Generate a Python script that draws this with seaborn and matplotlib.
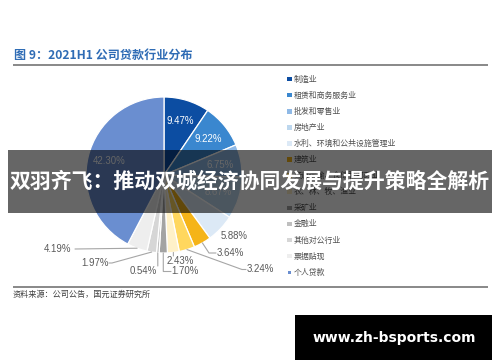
import matplotlib
matplotlib.use("Agg")
import matplotlib.pyplot as plt
from matplotlib.patches import Rectangle
import numpy as np
import seaborn as sns

# ---------------- data ----------------
categories = ["制造业", "租赁和商务服务业", "批发和零售业", "房地产业",
              "水利、环境和公共设施管理业", "建筑业", "交通运输、仓储和邮政业",
              "农、林、牧、渔业", "采矿业", "金融业", "其他对公行业", "票据贴现", "个人贷款"]
values = [9.47, 9.22, 6.75, 8.67, 5.88, 3.64, 3.24, 2.43, 1.70, 0.54, 1.97, 4.19, 42.30]
value_labels = ["9.47%", "9.22%", "6.75%", "8.67%", "5.88%", "3.64%", "3.24%",
                "2.43%", "1.70%", "0.54%", "1.97%", "4.19%", "42.30%"]
slice_colors = ["#0C4DA2", "#3A87CF", "#8FB9E6", "#BDD7EE", "#DCE9F6",
                "#F5B418", "#FFD75E", "#FFF1C8", "#A3A3A3", "#BFBFBF",
                "#D6D6D6", "#EEEEEE", "#6A8ED0"]
title_text = "图 9：2021H1 公司贷款行业分布"
source_text = "资料来源：公司公告，国元证券研究所"
banner_text = "双羽齐飞：推动双城经济协同发展与提升策略全解析"
watermark_text = "www.zh-bsports.com"

# ---------------- style ----------------
sns.set_theme(style="white")
plt.rcParams["font.family"] = ["Liberation Sans", "Noto Sans CJK SC", "DejaVu Sans"]
CJK = ["Noto Sans CJK SC", "DejaVu Sans"]
palette = sns.color_palette(slice_colors)

W, H = 500, 362
fig = plt.figure(figsize=(W / 100, H / 100), dpi=100)
fig.patch.set_facecolor("white")

# background axes in pixel coordinates
bg = fig.add_axes([0, 0, 1, 1], zorder=0)
bg.set_xlim(0, W)
bg.set_ylim(H, 0)
bg.axis("off")

bg.text(14, 55, title_text, family=CJK, fontsize=8.7, fontweight="bold",
        color="#2F6CB5", va="center", ha="left")
bg.plot([13, 488], [65, 65], color="#7F7F7F", lw=1.3, solid_capstyle="butt")
bg.plot([13, 488], [287, 287], color="#7F7F7F", lw=1.3, solid_capstyle="butt")
bg.text(13, 294.5, source_text, family=CJK, fontsize=5.9, color="#404040",
        va="center", ha="left")

# legend
for i, (cat, col) in enumerate(zip(categories, palette)):
    y = 79 + 16.1 * i
    s = 4.6 if i < len(categories) - 1 else 3.0
    bg.add_patch(Rectangle((289.5 - s / 2, y - s / 2), s, s, color=col, lw=0))
    bg.text(294, y, cat, family=CJK, fontsize=5.7, color="#505050",
            va="center", ha="left")

# ---------------- pie ----------------
cx, cy, r = 164, 175, 78
ax = fig.add_axes([(cx - r) / W, (H - cy - r) / H, 2 * r / W, 2 * r / H], zorder=1)
wedges, _ = ax.pie(values, colors=palette, startangle=90, counterclock=False,
                   radius=1, wedgeprops=dict(edgecolor="white", linewidth=0.9))
ax.set_xlim(-1, 1)
ax.set_ylim(-1, 1)
ax.axis("off")

def to_data(px, py):
    return (px - cx) / r, (cy - py) / r

# inside labels (on wedge mid-angle)
inside = [0, 1, 2, 3, 12]
for i in inside:
    w = wedges[i]
    ang = np.deg2rad((w.theta1 + w.theta2) / 2)
    rr = 0.73
    ax.text(rr * np.cos(ang), rr * np.sin(ang), value_labels[i], color="white",
            fontsize=6.9, ha="center", va="center", clip_on=False)

# outside labels: (text center px, elbow px or None, text anchor)
outside = {
    4: ((234, 236), None),
    5: ((230, 252.5), [(209, 253), (216, 253)]),
    6: ((260, 269), [(242, 269.5), (246, 269.5)]),
    7: ((180, 260.5), [(173.4, 256)]),
    8: ((185, 271.5), [(163.3, 271.5), (171, 271.5)]),
    9: ((143.5, 271.5), [(157.8, 266)]),
    10: ((95, 263), [(112, 263), (109, 263)]),
    11: ((58, 249), [(75, 249)]),
}
for i, (tpos, path) in outside.items():
    tx, ty = to_data(*tpos)
    ax.text(tx, ty, value_labels[i], color="#595959", fontsize=6.9,
            ha="center", va="center", clip_on=False)
    if path:
        w = wedges[i]
        ang = np.deg2rad((w.theta1 + w.theta2) / 2)
        xs = [np.cos(ang)]
        ys = [np.sin(ang)]
        for p in path:
            dx, dy = to_data(*p)
            xs.append(dx)
            ys.append(dy)
        ax.plot(xs, ys, color="#A6A6A6", lw=0.8, clip_on=False)

# ---------------- overlays ----------------
ov = fig.add_axes([0, 0, 1, 1], zorder=5)
ov.set_xlim(0, W)
ov.set_ylim(H, 0)
ov.axis("off")
ov.add_patch(Rectangle((8, 150), 484, 63, color="black", alpha=0.6, lw=0))
ov.text(250, 181, banner_text, family=CJK, fontsize=15, fontweight="bold",
        color="white", ha="center", va="center")
ov.add_patch(Rectangle((295, 315), 197, 45, color="black", lw=0))
ov.text(394, 338, watermark_text, family=["DejaVu Sans"], fontsize=10,
        fontweight="bold", color="white", ha="center", va="center")

fig.savefig("out.png", dpi=100)
